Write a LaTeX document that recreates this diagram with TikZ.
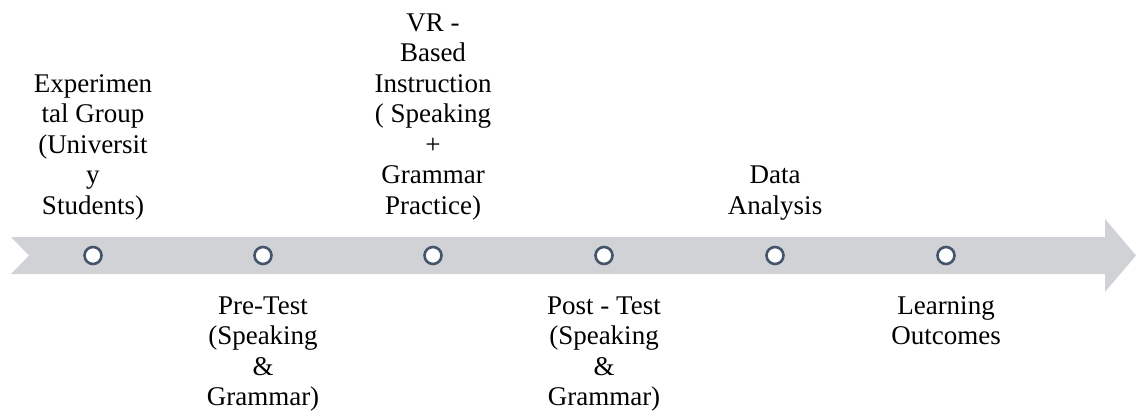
\documentclass[tikz,border=0pt]{standalone}
\usepackage{fontspec}
\setmainfont{Liberation Serif}
\begin{document}
\begin{tikzpicture}[x=1pt,y=-1pt,
  band/.style={fill=bandgray,draw=none},
  milestone/.style={circle,draw=dotblue,fill=white,line width=2.6pt,minimum size=17pt,inner sep=0pt},
  upper/.style={anchor=base,inner sep=0pt,font=\fontsize{27}{30.5}\selectfont},
  lower/.style={anchor=base,inner sep=0pt,font=\fontsize{27}{30.5}\selectfont}]
\definecolor{bandgray}{RGB}{208,210,214}
\definecolor{dotblue}{RGB}{68,84,106}
\useasboundingbox (0,0) rectangle (1136,412);
% timeline arrow with notched tail
\fill[band] (11,237) -- (1105,237) -- (1105,219) -- (1136,255.5) -- (1105,292)
  -- (1105,274) -- (11,274) -- (29,255.5) -- cycle;
% milestones
\foreach \n/\x in {m1/93,m2/263,m3/433,m4/604,m5/775,m6/946}
  \node[milestone] (\n) at (\x,255.5) {};
% labels above the arrow (last baseline aligned)
\node[upper] (t1) at (93,214) {\tabcolsep=0pt\begin{tabular}[b]{c}Experimen\\tal Group\\(Universit\\y\\Students)\end{tabular}};
\node[upper] (t3) at (433,214) {\tabcolsep=0pt\begin{tabular}[b]{c}VR -\\Based\\Instruction\\( Speaking\\+\\Grammar\\Practice)\end{tabular}};
\node[upper] (t5) at (775,214) {\tabcolsep=0pt\begin{tabular}[b]{c}Data\\Analysis\end{tabular}};
% labels below the arrow (first baseline aligned)
\node[lower] (t2) at (263,314) {\tabcolsep=0pt\begin{tabular}[t]{c}Pre-Test\\(Speaking\\\&\\Grammar)\end{tabular}};
\node[lower] (t4) at (604,314) {\tabcolsep=0pt\begin{tabular}[t]{c}Post - Test\\(Speaking\\\&\\Grammar)\end{tabular}};
\node[lower] (t6) at (946,314) {\tabcolsep=0pt\begin{tabular}[t]{c}Learning\\Outcomes\end{tabular}};
\end{tikzpicture}
\end{document}
